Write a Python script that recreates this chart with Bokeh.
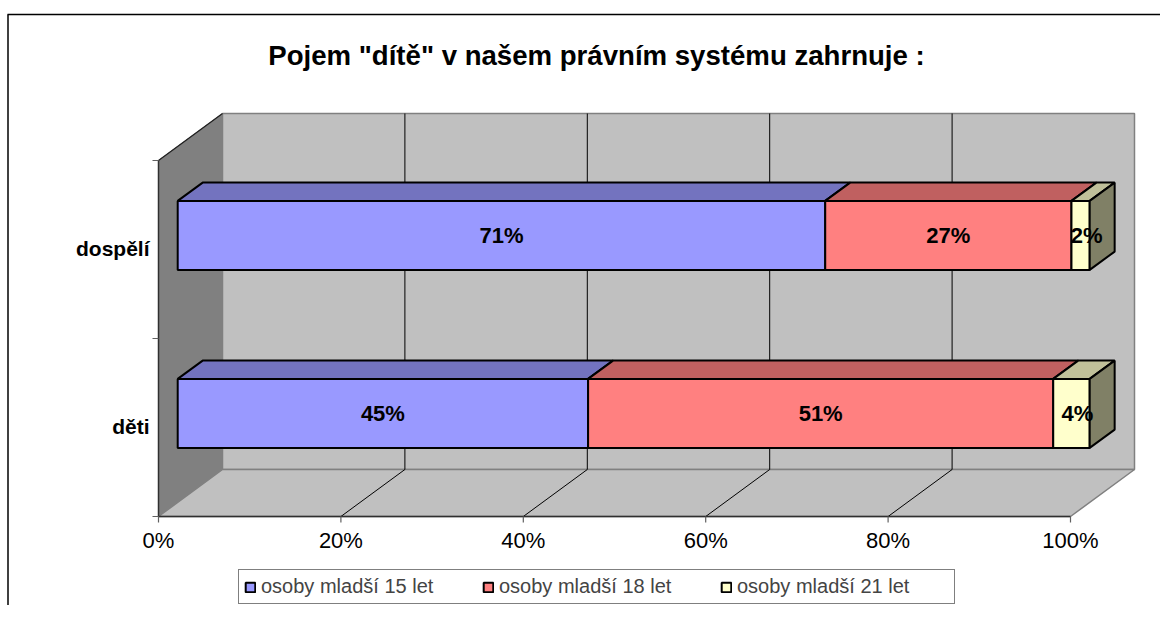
from bokeh.plotting import figure
from bokeh.models import Range1d, Legend, LegendItem, Label
from bokeh.core.properties import value
from bokeh.embed import file_html
from bokeh.resources import INLINE

# ---------------- data ----------------
title_text = 'Pojem "dítě" v našem právním systému zahrnuje :'
categories = ["děti", "dospělí"]
series_names = ["osoby mladší 15 let", "osoby mladší 18 let", "osoby mladší 21 let"]
under15 = [45, 71]
under18 = [51, 27]
under21 = [4, 2]
x_ticks = [0, 20, 40, 60, 80, 100]
x_tick_labels = ["0%", "20%", "40%", "60%", "80%", "100%"]

# ---------------- styles / geometry ----------------
front_colors = ["#9999FF", "#FF8080", "#FFFFCC"]
top_colors = ["#7373BF", "#C06060", "#C0C09A"]
side_colors = ["#4D4D80", "#804040", "#808066"]
FONT = "Liberation Sans"

W, H = 1160, 605
X0_PX, X100_PX = 158, 1070      # screen px of 0% / 100% on front plane
Y0_PX, YTOP_PX = 516, 160       # screen px (from top) of floor / top on front plane
ncat = len(categories)
sx = (X100_PX - X0_PX) / 100.0
sy = (Y0_PX - YTOP_PX) / float(ncat)
DX = 64 / sx                    # depth offset (full depth) in data units
DY = 47 / sy
D0, D1 = 0.30, 0.69             # bar depth range
BH = 34.5 / sy                  # half bar height

p = figure(width=W, height=H, output_backend="svg", toolbar_location=None,
           x_axis_type=None, y_axis_type=None, min_border=0,
           x_range=Range1d(-X0_PX / sx, (W - X0_PX) / sx),
           y_range=Range1d(-(H - Y0_PX) / sy, Y0_PX / sy))
p.outline_line_color = None
p.background_fill_color = "white"
p.border_fill_color = "white"
p.grid.visible = False


def proj(x, y, d):
    return x + d * DX, y + d * DY


def poly(pts):
    return [a for a, _ in pts], [b for _, b in pts]


xmax = x_ticks[-1]
ymax = ncat

# back wall
bx, by = poly([proj(0, 0, 1), proj(xmax, 0, 1), proj(xmax, ymax, 1), proj(0, ymax, 1)])
p.patch(bx, by, fill_color="#C0C0C0", line_color="#808080", line_width=1.5)
# left side wall
lx, ly = poly([proj(0, 0, 0), proj(0, 0, 1), proj(0, ymax, 1), proj(0, ymax, 0)])
p.patch(lx, ly, fill_color="#808080", line_color="#808080", line_width=1)
# floor
fx, fy = poly([proj(0, 0, 0), proj(xmax, 0, 0), proj(xmax, 0, 1), proj(0, 0, 1)])
p.patch(fx, fy, fill_color="#C0C0C0", line_color="#808080", line_width=1.5)

# gridlines on back wall and floor
inner = x_ticks[1:-1]
p.segment(x0=[proj(t, 0, 1)[0] for t in inner], y0=[proj(t, 0, 1)[1] for t in inner],
          x1=[proj(t, ymax, 1)[0] for t in inner], y1=[proj(t, ymax, 1)[1] for t in inner],
          line_color="black", line_width=1)
p.segment(x0=[proj(t, 0, 0)[0] for t in inner], y0=[proj(t, 0, 0)[1] for t in inner],
          x1=[proj(t, 0, 1)[0] for t in inner], y1=[proj(t, 0, 1)[1] for t in inner],
          line_color="black", line_width=1)

# wall edges
tlx, tly = poly([proj(0, ymax, 0), proj(0, ymax, 1)])
p.line(tlx, tly, line_color="#202020", line_width=1.3)

# axes lines
p.line([0, xmax], [0, 0], line_color="#303030", line_width=1.5)
p.line([0, 0], [0, ymax], line_color="#303030", line_width=1.5)
# x ticks
p.segment(x0=x_ticks, y0=[0] * len(x_ticks), x1=x_ticks, y1=[-6 / sy] * len(x_ticks),
          line_color="#606060", line_width=1.2)
# y ticks
yt = list(range(ncat + 1))
p.segment(x0=[0] * len(yt), y0=yt, x1=[-6 / sx] * len(yt), y1=yt,
          line_color="#606060", line_width=1.2)

# x tick labels
p.text(x=x_ticks, y=[-24 / sy] * len(x_ticks), text=x_tick_labels,
       text_font=value(FONT), text_font_size="22px", text_color="black",
       text_align="center", text_baseline="middle")

# category labels
p.text(x=[-9 / sx] * ncat, y=[i + 0.5 + 1 / sy for i in range(ncat)], text=categories,
       text_font=value(FONT), text_font_size="21px", text_font_style="bold",
       text_color="black", text_align="right", text_baseline="middle")

# ---------------- bars ----------------
series = [under15, under18, under21]
legend_renderers = []
for si, vals in enumerate(series):
    fxs, fys, txs, tys = [], [], [], []
    lab_x, lab_y, lab_t = [], [], []
    for ci in range(ncat):
        a = sum(series[k][ci] for k in range(si))
        b = a + vals[ci]
        c = ci + 0.5
        x_, y_ = poly([proj(a, c - BH, D0), proj(b, c - BH, D0), proj(b, c + BH, D0), proj(a, c + BH, D0)])
        fxs.append(x_); fys.append(y_)
        x_, y_ = poly([proj(a, c + BH, D0), proj(b, c + BH, D0), proj(b, c + BH, D1), proj(a, c + BH, D1)])
        txs.append(x_); tys.append(y_)
        lx_, ly_ = proj((a + b) / 2.0, c, D0)
        lab_x.append(lx_); lab_y.append(ly_); lab_t.append(f"{vals[ci]}%")
    p.patches(txs, tys, fill_color=top_colors[si], line_color="black", line_width=2)
    r = p.patches(fxs, fys, fill_color=front_colors[si], line_color="black", line_width=2)
    legend_renderers.append(r)
    if si == len(series) - 1:
        sxs, sys_ = [], []
        for ci in range(ncat):
            b = sum(series[k][ci] for k in range(len(series)))
            c = ci + 0.5
            x_, y_ = poly([proj(b, c - BH, D0), proj(b, c - BH, D1), proj(b, c + BH, D1), proj(b, c + BH, D0)])
            sxs.append(x_); sys_.append(y_)
        p.patches(sxs, sys_, fill_color=side_colors[si], line_color="black", line_width=2)
    p.text(x=lab_x, y=lab_y, text=lab_t, text_font=value(FONT), text_font_size="22px",
           text_font_style="bold", text_color="black", text_align="center",
           text_baseline="middle", x_offset=6 if si == len(series) - 1 else 0)

# ---------------- title ----------------
p.add_layout(Label(x=596, y=H - 55, x_units="screen", y_units="screen", text=title_text,
                   text_font=FONT, text_font_size="27.6px", text_font_style="bold",
                   text_align="center", text_baseline="middle", text_color="black"))

# chart area border (top and left)
p.line([(7 - X0_PX) / sx, (W - X0_PX) / sx], [(Y0_PX - 14) / sy] * 2, line_color="black", line_width=1.5)
p.line([(7.5 - X0_PX) / sx] * 2, [(Y0_PX - 14) / sy, -(H - Y0_PX) / sy], line_color="black", line_width=1.5)

# ---------------- legend ----------------
legend = Legend(items=[LegendItem(label=n, renderers=[r]) for n, r in zip(series_names, legend_renderers)],
                orientation="horizontal", location=(238, 1),
                label_text_font=FONT, label_text_font_size="20px",
                glyph_width=12, glyph_height=12, label_standoff=5, label_width=212,
                spacing=9, padding=5, margin=0,
                border_line_color="black", border_line_width=1,
                background_fill_color="white", background_fill_alpha=1)
p.add_layout(legend)

open("out.html", "w").write(file_html(p, INLINE))
